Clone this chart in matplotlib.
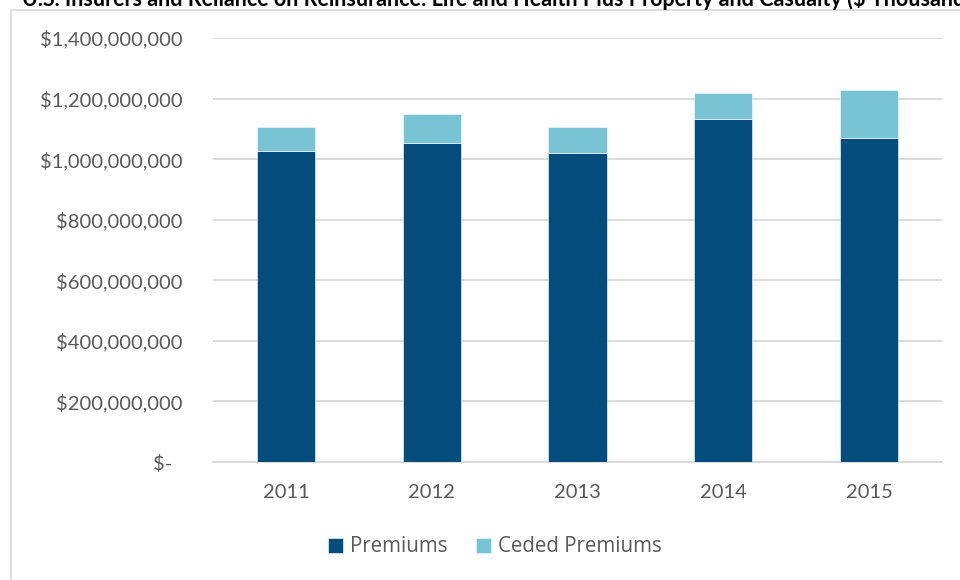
import matplotlib
matplotlib.use("Agg")
import matplotlib.pyplot as plt
from matplotlib.patches import Rectangle
from matplotlib.ticker import FuncFormatter

years = ["2011", "2012", "2013", "2014", "2015"]
premiums = [1028e6, 1054e6, 1021e6, 1134e6, 1071e6]
ceded = [77e6, 95e6, 86e6, 83e6, 157e6]
y_ticks = [0, 200e6, 400e6, 600e6, 800e6, 1000e6, 1200e6, 1400e6]

title = ("U.S. Insurers and Reliance on Reinsurance: Life and Health Plus "
         "Property and Casualty ($ Thousands)")

dark = "#044C7C"
light = "#78C4D5"
grid = "#D9D9D9"
text_c = "#595959"

fig = plt.figure(figsize=(9.6, 5.8), dpi=100)
W, H = 960, 580

# chart frame
fig.patches.append(Rectangle((11 / W, -0.1), 1.2, 1 - 10 / H + 0.1,
                             transform=fig.transFigure, fill=False,
                             edgecolor="#D9D9D9", linewidth=1.2))

fig.text(22 / W, 1 - 6 / H, title, fontsize=15.5, fontweight="bold",
         family="Lato", color="black", va="baseline", ha="left")

ax = fig.add_axes([213 / W, 1 - 462 / H, (942 - 213) / W, (462 - 38) / H])
x = range(len(years))
ax.bar(x, premiums, width=0.40, color=dark, label="Premiums", zorder=3,
       edgecolor="white", linewidth=0.4)
ax.bar(x, ceded, bottom=premiums, width=0.40, color=light,
       label="Ceded Premiums", zorder=3, edgecolor="white", linewidth=0.4)

ax.set_xlim(-0.5, len(years) - 0.5)
ax.set_ylim(0, 1400e6)
ax.set_yticks(y_ticks)


def money(v, pos):
    if v == 0:
        return "$-  "
    return "${:,.0f}".format(v)


ax.yaxis.set_major_formatter(FuncFormatter(money))
ax.set_xticks(list(x))
ax.set_xticklabels(years)
ax.grid(axis="y", color=grid, linewidth=1.3, zorder=0)
for s in ["top", "right", "left"]:
    ax.spines[s].set_visible(False)
ax.spines["bottom"].set_color(grid)
ax.spines["bottom"].set_linewidth(1.3)
ax.tick_params(axis="both", length=0, labelsize=14.5, labelcolor=text_c)
ax.tick_params(axis="y", pad=22)
ax.tick_params(axis="x", pad=16)
for lbl in ax.get_xticklabels() + ax.get_yticklabels():
    lbl.set_family("Lato")

leg = ax.legend(loc="center", bbox_to_anchor=(0.5 * (330 + 660) / W, 1 - 547 / H),
                bbox_transform=fig.transFigure, ncol=2, frameon=False,
                handlelength=0.7, handleheight=0.7, handletextpad=0.35,
                columnspacing=1.4, prop={"family": "Open Sans", "size": 14.8})
for t in leg.get_texts():
    t.set_color(text_c)

fig.savefig("out.png", dpi=100)
